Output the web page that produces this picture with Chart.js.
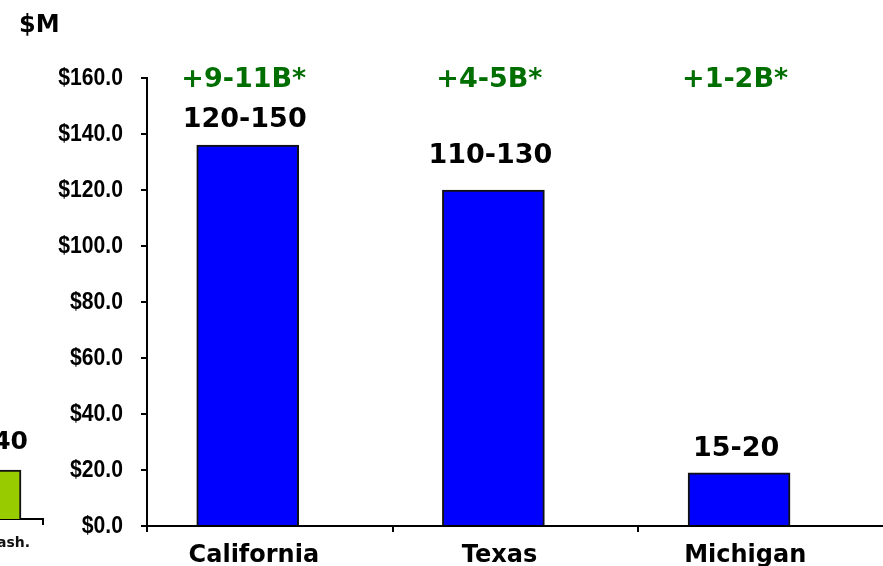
<!DOCTYPE html>
<html>
<head>
<meta charset="utf-8">
<script src="https://cdn.jsdelivr.net/npm/chart.js@4.4.1/dist/chart.umd.min.js"></script>
<style>
  html, body { margin: 0; padding: 0; background: #fff; overflow: hidden; }
  #wrap { position: relative; width: 883px; height: 566px; overflow: hidden; }
  #main { position: absolute; left: 0; top: 0; }
  #frag { position: absolute; left: -110px; top: 420px; }
</style>
</head>
<body>
<div id="wrap">
  <canvas id="main" width="888" height="566"></canvas>
  <canvas id="frag" width="156" height="146"></canvas>
</div>
<script>
// --- DATA ---
const categories = ['California', 'Texas', 'Michigan'];
const values = [136, 120, 19];
const rangeLabels = ['120-150', '110-130', '15-20'];
const impactLabels = ['+9-11B*', '+4-5B*', '+1-2B*'];
const yTicks = [0, 20, 40, 60, 80, 100, 120, 140, 160];

// neighbouring chart, cut off at the left edge
const fragCategories = ['Wash.'];
const fragValues = [35];
const fragLabels = ['30-40'];

// --- STYLE ---
const BOLD_FONT = 'DejaVu Sans, Verdana, sans-serif';
const TICK_FONT = '"Liberation Sans", Arial, sans-serif';
const BAR_SHIFT = 0.41;     // bar centre inside each category slot
const LABEL_SHIFT = 0.435;  // category text centre inside each slot
const labelLift = [18, 27, 17];

// --- MAIN CHART ---
const textPlugin = {
    id: 'textPlugin',
    afterDraw(chart) {
        const { ctx, scales: { x, y } } = chart;
        const meta = chart.getDatasetMeta(0);
        ctx.save();
        ctx.textAlign = 'left';
        ctx.textBaseline = 'alphabetic';
        ctx.fillStyle = '#000';
        ctx.font = 'bold 24px ' + BOLD_FONT;
        ctx.fillText('$M', 19, 32);

        // y tick labels, slightly narrow bold like the original
        ctx.textAlign = 'right';
        ctx.textBaseline = 'middle';
        ctx.font = 'bold 23px ' + TICK_FONT;
        yTicks.forEach(v => {
            ctx.save();
            ctx.translate(123, y.getPixelForValue(v) + 1);
            ctx.scale(0.92, 1);
            ctx.fillText('$' + v.toFixed(1), 0, 0);
            ctx.restore();
        });

        ctx.textAlign = 'center';
        ctx.textBaseline = 'alphabetic';
        meta.data.forEach((bar, i) => {
            ctx.font = 'bold 27px ' + BOLD_FONT;
            ctx.fillStyle = '#000';
            ctx.fillText(rangeLabels[i], bar.x - 3, bar.y - labelLift[i]);
            ctx.fillStyle = '#006e00';
            ctx.fillText(impactLabels[i], bar.x - 4, 87);
            ctx.fillStyle = '#000';
            ctx.font = 'bold 24px ' + BOLD_FONT;
            ctx.fillText(categories[i], x.getPixelForValue(i + LABEL_SHIFT), 562);
        });
        ctx.restore();
    }
};

new Chart(document.getElementById('main'), {
    type: 'bar',
    data: {
        datasets: [{
            data: values.map((v, i) => ({ x: i + BAR_SHIFT, y: v })),
            backgroundColor: '#0000ff',
            borderColor: '#111',
            borderWidth: 2,
            barThickness: 102
        }]
    },
    options: {
        responsive: false,
        animation: false,
        layout: { padding: { top: 78, right: 4, left: 0, bottom: 0 } },
        plugins: { legend: { display: false }, tooltip: { enabled: false } },
        scales: {
            x: {
                type: 'linear',
                min: 0,
                max: 3,
                offset: false,
                afterBuildTicks: s => { s.ticks = [0, 1, 2, 3].map(v => ({ value: v })); },
                afterFit: s => { s.height = 40; },
                ticks: { callback: () => '', padding: 0 },
                grid: { offset: false, drawOnChartArea: false, color: '#000', lineWidth: 2, tickLength: 6 },
                border: { color: '#000', width: 2 }
            },
            y: {
                min: 0,
                max: 160,
                afterBuildTicks: s => { s.ticks = yTicks.map(v => ({ value: v })); },
                afterFit: s => { s.width = 147; },
                ticks: { callback: () => '' },
                grid: { drawOnChartArea: false, color: '#000', lineWidth: 2, tickLength: 6 },
                border: { color: '#000', width: 2 }
            }
        }
    },
    plugins: [textPlugin]
});

// --- FRAGMENT CHART ---
const fragPlugin = {
    id: 'fragPlugin',
    afterDraw(chart) {
        const { ctx } = chart;
        ctx.save();
        ctx.textAlign = 'center';
        ctx.fillStyle = '#000';
        chart.getDatasetMeta(0).data.forEach((bar, i) => {
            ctx.font = 'bold 25px ' + BOLD_FONT;
            ctx.fillText(fragLabels[i], bar.x - 2, bar.y - 21);
            ctx.font = 'bold 14px ' + BOLD_FONT;
            ctx.fillStyle = '#111';
            ctx.fillText(fragCategories[i], bar.x + 16, 127);
        });
        ctx.restore();
    }
};

new Chart(document.getElementById('frag'), {
    type: 'bar',
    data: {
        labels: fragCategories,
        datasets: [{
            data: fragValues,
            backgroundColor: '#99cc00',
            borderColor: '#111',
            borderWidth: 2,
            barThickness: 62
        }]
    },
    options: {
        responsive: false,
        animation: false,
        layout: { padding: { top: 15, right: 3, left: 47, bottom: 0 } },
        plugins: { legend: { display: false }, tooltip: { enabled: false } },
        scales: {
            x: {
                afterFit: s => { s.height = 47; },
                ticks: { display: false },
                grid: { drawOnChartArea: false, color: '#000', lineWidth: 2, tickLength: 6 },
                border: { color: '#000', width: 2 }
            },
            y: { display: false, min: 0, max: 60 }
        }
    },
    plugins: [fragPlugin]
});
</script>
</body>
</html>
